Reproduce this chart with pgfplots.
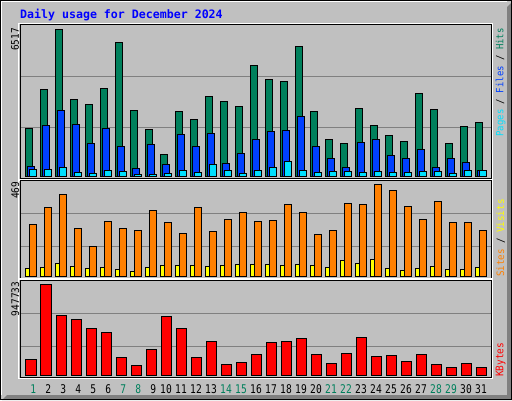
\documentclass[border=0pt]{standalone}
\usepackage{fontspec}
\usepackage{pgfplots}
\pgfplotsset{compat=1.18}
\newfontfamily\titlef{DejaVu Sans Mono}
\newfontfamily\smallf{DejaVu Sans Mono}[FakeStretch=0.9]
\newfontfamily\tickf{DejaVu Sans Mono}[FakeStretch=0.8]
\definecolor{bg}{HTML}{C0C0C0}
\definecolor{shadow}{HTML}{808080}
\definecolor{gridc}{HTML}{808080}
\definecolor{hits}{HTML}{00805C}
\definecolor{files}{HTML}{0040FF}
\definecolor{pages}{HTML}{00E0FF}
\definecolor{visits}{HTML}{FFFF00}
\definecolor{sites}{HTML}{FF8000}
\definecolor{kbytes}{HTML}{FF0000}
\definecolor{wk}{HTML}{00805C}
\definecolor{titleblue}{HTML}{0000FF}
\pgfplotsset{panel/.style={scale only axis, width=471pt, xmin=0.26667, xmax=31.6667,
  axis line style={draw=none}, major tick length=0pt, tick style={draw=none},
  ymajorgrids, grid style={draw=gridc, line width=1pt}, yticklabels={,,},
  scaled y ticks=false, scaled x ticks=false,
  anchor=south west, clip=false},
  barst/.style={draw=black, line width=1pt}}
\begin{document}
\begin{tikzpicture}[x=1pt,y=1pt]
\useasboundingbox (0,0) rectangle (512,400);
\fill[bg] (0,0) rectangle (512,400);
\fill[shadow] (2,0) -- (512,0) -- (512,398) -- (507,393) -- (507,5) -- (7,5) -- cycle;
\draw[white, line width=1pt] (1.5,5) -- (1.5,398.5) -- (507,398.5);
\draw[black, line width=1pt] (0.5,0.5) rectangle (511.5,399.5);

% Panel 1: Hits / Files / Pages
\begin{axis}[panel, at={(20pt,221.5pt)}, height=153.5pt, ymin=-97.5, ymax=6707,
  ytick={2172,4433}, xtick=\empty]
\addplot[ybar, bar width=7.3pt, bar shift=-2pt, fill=hits, barst] coordinates {
(1,2128)(2,3857)(3,6517)(4,3414)(5,3192)(6,3901)(7,5941)(8,2926)(9,2084)(10,975)
(11,2882)(12,2527)(13,3547)(14,3325)(15,3103)(16,4921)(17,4300)(18,4212)(19,5763)(20,2882)
(21,1640)(22,1463)(23,3015)(24,2261)(25,1818)(26,1552)(27,3680)(28,2970)(29,1463)(30,2217)(31,2394)};
\addplot[ybar, bar width=7.3pt, bar shift=0pt, fill=files, barst] coordinates {
(1,443)(2,2261)(3,2926)(4,2305)(5,1463)(6,2128)(7,1330)(8,355)(9,1419)(10,532)
(11,1862)(12,1330)(13,1906)(14,576)(15,1020)(16,1640)(17,1995)(18,2039)(19,2660)(20,1330)
(21,798)(22,399)(23,1507)(24,1640)(25,931)(26,798)(27,1197)(28,399)(29,798)(30,621)(31,266)};
\addplot[ybar, bar width=7.3pt, bar shift=2pt, fill=pages, barst] coordinates {
(1,310)(2,310)(3,399)(4,177)(5,133)(6,266)(7,222)(8,89)(9,89)(10,133)
(11,266)(12,177)(13,532)(14,266)(15,133)(16,266)(17,399)(18,665)(19,266)(20,177)
(21,222)(22,222)(23,177)(24,222)(25,177)(26,177)(27,222)(28,222)(29,133)(30,266)(31,266)};
\end{axis}

% Panel 2: Visits / Sites
\begin{axis}[panel, at={(20pt,122pt)}, height=97.5pt, ymin=-6.6, ymax=488.8,
  ytick={154.5,322}, xtick=\empty]
\addplot[ybar, bar width=4pt, bar shift=-3.7pt, fill=visits, barst] coordinates {
(1,42)(2,47)(3,68)(4,52)(5,42)(6,47)(7,37)(8,27)(9,47)(10,58)
(11,58)(12,58)(13,52)(14,58)(15,63)(16,63)(17,63)(18,58)(19,63)(20,58)
(21,47)(22,83)(23,68)(24,88)(25,42)(26,32)(27,42)(28,52)(29,37)(30,37)(31,47)};
\addplot[ybar, bar width=7.3pt, bar shift=2pt, fill=sites, barst] coordinates {
(1,266)(2,352)(3,418)(4,246)(5,154)(6,281)(7,246)(8,235)(9,337)(10,276)
(11,220)(12,352)(13,230)(14,291)(15,327)(16,281)(17,286)(18,367)(19,327)(20,215)
(21,235)(22,372)(23,367)(24,469)(25,439)(26,357)(27,291)(28,383)(29,276)(30,276)(31,235)};
\end{axis}

% Panel 3: KBytes
\begin{axis}[panel, at={(20pt,23pt)}, height=97pt, ymin=-17700, ymax=992555,
  ytick={302035,645730},
  xtick={1.15,2.15,3.15,4.15,5.15,6.15,7.15,8.15,9.15,10,11,12,13,14,15,16,17,18,19,20,21,22,23,24,25,26,27,28,29,30,31},
  xticklabels={\textcolor{wk}{1},2,3,4,5,6,\textcolor{wk}{7},\textcolor{wk}{8},9,10,11,12,13,\textcolor{wk}{14},\textcolor{wk}{15},16,17,18,19,20,\textcolor{wk}{21},\textcolor{wk}{22},23,24,25,26,27,\textcolor{wk}{28},\textcolor{wk}{29},30,31},
  xticklabel style={font=\tickf\fontsize{12}{12}\selectfont, anchor=base, yshift=-16.3pt, inner sep=0pt}]
\addplot[ybar, bar width=10.7pt, bar shift=0.35pt, fill=kbytes, barst] coordinates {
(1,166634)(2,947733)(3,624879)(4,583220)(5,489488)(6,447829)(7,187463)(8,104146)(9,270781)(10,614464)
(11,489488)(12,187463)(13,354098)(14,114560)(15,135390)(16,218707)(17,343684)(18,354098)(19,385342)(20,218707)
(21,124975)(22,229122)(23,395757)(24,197878)(25,208293)(26,145805)(27,218707)(28,114560)(29,83318)(30,124975)(31,83318)};
\end{axis}

% Panel frames
\foreach \yb/\yt in {221.5/375, 122/219.5, 23/120} {
  \draw[white, line width=1pt] (18.5,\yb-1.5) rectangle (492.5,\yt+1.5);
  \draw[black, line width=1pt] (20,\yb) rectangle (491,\yt);
}

% Title
\node[anchor=base west, inner sep=0pt, text=titleblue, font=\titlef\fontsize{11.6}{12}\selectfont\bfseries] at (20,381) {Daily usage for December 2024};

% Max labels
\node[rotate=90, anchor=east, inner sep=0pt, font=\smallf\fontsize{10.5}{12}\selectfont] at (15,372) {6517};
\node[rotate=90, anchor=east, inner sep=0pt, font=\smallf\fontsize{10.5}{12}\selectfont] at (15.3,218.3) {469};
\node[rotate=90, anchor=east, inner sep=0pt, font=\smallf\fontsize{10.5}{12}\selectfont] at (15.3,118.3) {947733};

% Legend labels
\node[rotate=90, anchor=east, inner sep=0pt, font=\smallf\fontsize{10}{12}\selectfont] at (500.7,372) {\textcolor{pages}{Pages} / \textcolor{files}{Files} / \textcolor{hits}{Hits}};
\node[rotate=90, anchor=west, inner sep=0pt, font=\smallf\fontsize{10.2}{12}\selectfont] at (500.7,123) {\textcolor{sites}{Sites} / \textcolor{visits}{Visits}};
\node[rotate=90, anchor=west, inner sep=0pt, font=\smallf\fontsize{10.5}{12}\selectfont] at (500.7,23) {\textcolor{kbytes}{KBytes}};
\end{tikzpicture}
\end{document}
